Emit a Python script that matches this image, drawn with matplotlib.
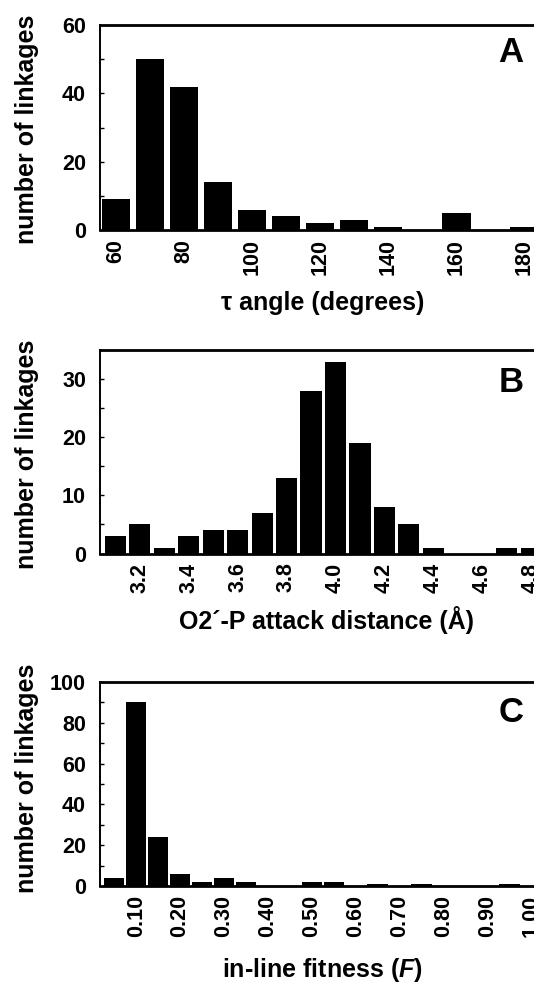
import matplotlib.pyplot as plt
from matplotlib.ticker import MultipleLocator

plt.rcParams['font.family'] = ['Liberation Sans', 'DejaVu Sans']
plt.rcParams['font.weight'] = 'bold'
plt.rcParams['mathtext.fontset'] = 'custom'
plt.rcParams['mathtext.it'] = 'Liberation Sans:bold:italic'
plt.rcParams['mathtext.rm'] = 'Liberation Sans:bold'

# panel A: tau angle histogram
tau_bins = [60, 70, 80, 90, 100, 110, 120, 130, 140, 150, 160, 170, 180]
tau_counts = [9, 50, 42, 14, 6, 4, 2, 3, 1, 0, 5, 0, 1]
tau_ticks = [60, 80, 100, 120, 140, 160, 180]

# panel B: O2'-P attack distance histogram
dist_bins = [3.1, 3.2, 3.3, 3.4, 3.5, 3.6, 3.7, 3.8, 3.9, 4.0, 4.1, 4.2, 4.3,
             4.4, 4.5, 4.6, 4.7, 4.8]
dist_counts = [3, 5, 1, 3, 4, 4, 7, 13, 28, 33, 19, 8, 5, 1, 0, 0, 1, 1]
dist_ticks = [3.2, 3.4, 3.6, 3.8, 4.0, 4.2, 4.4, 4.6, 4.8]

# panel C: in-line fitness histogram
fit_bins = [0.05, 0.10, 0.15, 0.20, 0.25, 0.30, 0.35, 0.40, 0.45, 0.50, 0.55,
            0.60, 0.65, 0.70, 0.75, 0.80, 0.85, 0.90, 0.95]
fit_counts = [4, 90, 24, 6, 2, 4, 2, 0, 0, 2, 2, 0, 1, 0, 1, 0, 0, 0, 1]
fit_ticks = [0.10, 0.20, 0.30, 0.40, 0.50, 0.60, 0.70, 0.80, 0.90, 1.00]

fig = plt.figure(figsize=(5.34, 9.85), dpi=100)

W, H = 534.0, 985.0
left = 100 / W
width = 445 / W   # right spine falls just outside the image, as in the original

panels = [
    # (top px, bottom px, bins, counts, bar width, xlim, ylim, major, minor,
    #  ticks, tick fmt, ylabel y, xlabel, xlabel x, xlabel y, letter, letter pos)
    (25, 230, tau_bins, tau_counts, 8.3, (55.36, 55.36 + 445 / 3.406), (0, 60),
     20, 10, tau_ticks, '{:.0f}', 0.49,
     'τ angle (degrees)', 0.5, -0.388, 'A', (511, 52)),
    (350, 553.5, dist_bins, dist_counts, 0.086, (3.038, 3.038 + 445 / 244.8),
     (0, 35), 10, 5, dist_ticks, '{:.1f}', 0.486,
     'O2\u00b4-P attack distance (Å)', 0.51, -0.373, 'B', (511, 383)),
    (682, 886, fit_bins, fit_counts, 0.0465, (0.0175, 0.0175 + 445 / 439),
     (0, 100), 20, 10, fit_ticks, '{:.2f}', 0.527,
     r'in-line fitness ($\mathit{F}$)', 0.5, -0.445, 'C', (511, 713)),
]

for (top, bot, bins, counts, bw, xlim, ylim, major, minor, ticks, fmt, yly,
     xlabel, xlx, xly, letter, lpos) in panels:
    ax = fig.add_axes([left, 1 - bot / H, width, (bot - top) / H])
    ax.bar(bins, counts, width=bw, color='black', edgecolor='none')
    ax.set_xlim(*xlim)
    ax.set_ylim(*ylim)

    ax.yaxis.set_major_locator(MultipleLocator(major))
    ax.yaxis.set_minor_locator(MultipleLocator(minor))
    ax.tick_params(axis='y', which='both', direction='in', length=3,
                   width=1, labelsize=15.5, pad=10)
    ax.set_xticks(ticks)
    ax.set_xticklabels([fmt.format(t) for t in ticks], rotation=90,
                       fontsize=15.5, fontweight='bold')
    ax.tick_params(axis='x', length=0, pad=6.5)

    ax.spines['left'].set_linewidth(1.4)
    ax.spines['top'].set_linewidth(2.0)
    ax.spines['bottom'].set_linewidth(2.0)

    ax.set_ylabel('number of linkages', fontsize=18, fontweight='bold',
                  va='center')
    ax.yaxis.set_label_coords(-0.164, yly)
    ax.set_xlabel(xlabel, fontsize=18, fontweight='bold', va='baseline')
    ax.xaxis.set_label_coords(xlx, xly)

    fig.text(lpos[0] / W, 1 - lpos[1] / H, letter, fontsize=25,
             fontweight='bold', ha='center', va='center')

fig.savefig('out.png', dpi=100)
